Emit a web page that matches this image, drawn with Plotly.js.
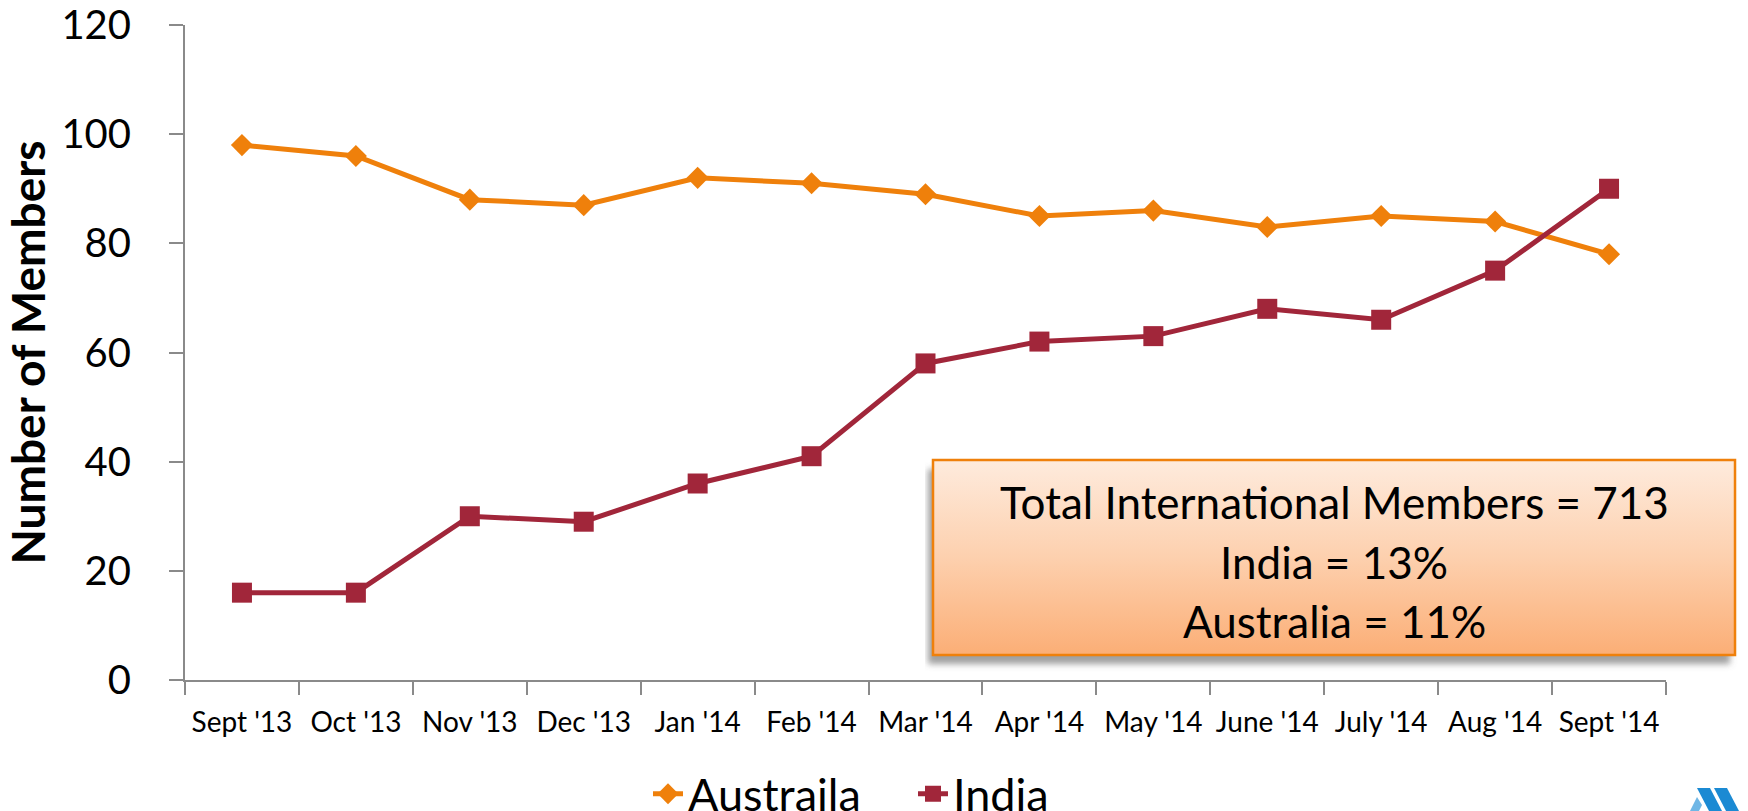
<!DOCTYPE html>
<html>
<head>
<meta charset="utf-8">
<script src="https://cdn.plot.ly/plotly-3.0.1.min.js"></script>
<style>
  html, body { margin: 0; padding: 0; background: #ffffff; }
  #chart { width: 1748px; height: 811px; }
</style>
</head>
<body>
<div id="chart"></div>
<script>
// ---- data ----
const months = ["Sept '13", "Oct '13", "Nov '13", "Dec '13", "Jan '14", "Feb '14", "Mar '14",
                "Apr '14", "May '14", "June '14", "July '14", "Aug '14", "Sept '14"];
const australia = [98, 96, 88, 87, 92, 91, 89, 85, 86, 83, 85, 84, 78];
const india = [16, 16, 30, 29, 36, 41, 58, 62, 63, 68, 66, 75, 90];
const seriesNames = ["Austraila", "India"];
const yTicks = [0, 20, 40, 60, 80, 100, 120];
const summaryLines = ["Total International Members = 713", "India = 13%", "Australia = 11%"];

// ---- layout helpers (pixel -> paper) ----
const W = 1748, H = 811;
const M = { l: 185, r: 82, t: 25, b: 131 };
const PW = W - M.l - M.r, PH = H - M.t - M.b;
const px = x => (x - M.l) / PW;
const py = y => (H - M.b - y) / PH;

const FONT = "Lato, 'Open Sans', sans-serif";
const ORANGE = "#EF800B";
const RED = "#A1263A";

// summary box (gradient + shadow) as an SVG image
const bx0 = 925, by0 = 455, bw = 815, bh = 217;
const boxSvg =
  '<svg xmlns="http://www.w3.org/2000/svg" width="' + bw + '" height="' + bh + '" viewBox="0 0 ' + bw + ' ' + bh + '">' +
  '<defs>' +
  '<linearGradient id="g" x1="0" y1="0" x2="0" y2="1">' +
  '<stop offset="0" stop-color="#FEEBDD"/><stop offset="0.5" stop-color="#FDD0AE"/><stop offset="1" stop-color="#FBAE76"/>' +
  '</linearGradient>' +
  '<filter id="f" x="-5%" y="-10%" width="110%" height="120%"><feGaussianBlur stdDeviation="3"/></filter>' +
  '</defs>' +
  '<rect x="3" y="14" width="802" height="195" fill="#6b6b6b" fill-opacity="0.65" filter="url(#f)"/>' +
  '<rect x="8" y="5" width="802" height="195" fill="url(#g)" stroke="' + ORANGE + '" stroke-width="2.5"/>' +
  '</svg>';
const boxUri = "data:image/svg+xml;charset=utf-8," + encodeURIComponent(boxSvg);

const traces = [
  {
    type: "scatter", mode: "lines+markers", name: seriesNames[0],
    x: months, y: australia,
    line: { color: ORANGE, width: 5 },
    marker: { symbol: "diamond", size: 17, color: ORANGE }
  },
  {
    type: "scatter", mode: "lines+markers", name: seriesNames[1],
    x: months, y: india,
    line: { color: RED, width: 5 },
    marker: { symbol: "square", size: 20, color: RED }
  }
];

const lineY = [501.5, 562, 621];
const annotations = summaryLines.map((t, i) => ({
  xref: "paper", yref: "paper",
  x: px(1334), y: py(lineY[i]),
  xanchor: "center", yanchor: "middle",
  text: t, showarrow: false,
  font: { family: FONT, size: 44, color: "#000" }
}));

const layout = {
  width: W, height: H,
  margin: { l: M.l, r: M.r, t: M.t, b: M.b, autoexpand: false },
  paper_bgcolor: "#ffffff", plot_bgcolor: "#ffffff",
  showlegend: true,
  legend: {
    orientation: "h", x: px(648), y: py(794), xanchor: "left", yanchor: "middle",
    font: { family: FONT, size: 45, color: "#000" },
    itemwidth: 30, entrywidth: 220, bgcolor: "rgba(0,0,0,0)"
  },
  xaxis: {
    type: "category", range: [-0.5, 12.5], autorange: false,
    showline: true, linecolor: "#8a8a8a", linewidth: 2,
    ticks: "outside", tickson: "boundaries", ticklen: 13, tickwidth: 2, tickcolor: "#8a8a8a",
    showgrid: false, zeroline: false, tickangle: 0,
    tickfont: { family: FONT, size: 28, color: "#000" },
    ticklabelstandoff: 16
  },
  yaxis: {
    range: [0, 120], autorange: false, tickvals: yTicks,
    showline: true, linecolor: "#8a8a8a", linewidth: 2,
    ticks: "outside", ticklen: 14, tickwidth: 2, tickcolor: "#8a8a8a",
    showgrid: false, zeroline: false,
    tickfont: { family: FONT, size: 40, color: "#000" },
    ticklabelstandoff: 30,
    title: { text: "Number of Members", font: { family: FONT, size: 46, color: "#000", weight: "bold" }, standoff: 9 }
  },
  images: [{
    source: boxUri, xref: "paper", yref: "paper",
    x: px(bx0), y: py(by0), sizex: bw / PW, sizey: bh / PH,
    xanchor: "left", yanchor: "top", sizing: "stretch", layer: "above"
  }],
  shapes: [
    // partial logo at bottom-right corner
    { type: "path", xref: "paper", yref: "paper", line: { width: 0 }, fillcolor: "#1B8AD3",
      path: "M " + px(1697) + "," + py(788) + " L " + px(1710) + "," + py(788) + " L " + px(1722) + "," + py(811) + " L " + px(1709) + "," + py(811) + " Z" },
    { type: "path", xref: "paper", yref: "paper", line: { width: 0 }, fillcolor: "#1B8AD3",
      path: "M " + px(1714) + "," + py(788) + " L " + px(1727) + "," + py(788) + " L " + px(1739) + "," + py(811) + " L " + px(1726) + "," + py(811) + " Z" },
    { type: "path", xref: "paper", yref: "paper", line: { width: 0 }, fillcolor: "#6FB7E6",
      path: "M " + px(1690) + "," + py(811) + " L " + px(1697) + "," + py(797) + " L " + px(1702) + "," + py(805) + " L " + px(1699) + "," + py(811) + " Z" }
  ],
  annotations: annotations
};

Plotly.newPlot("chart", traces, layout, { displayModeBar: false, staticPlot: true });
</script>
</body>
</html>
